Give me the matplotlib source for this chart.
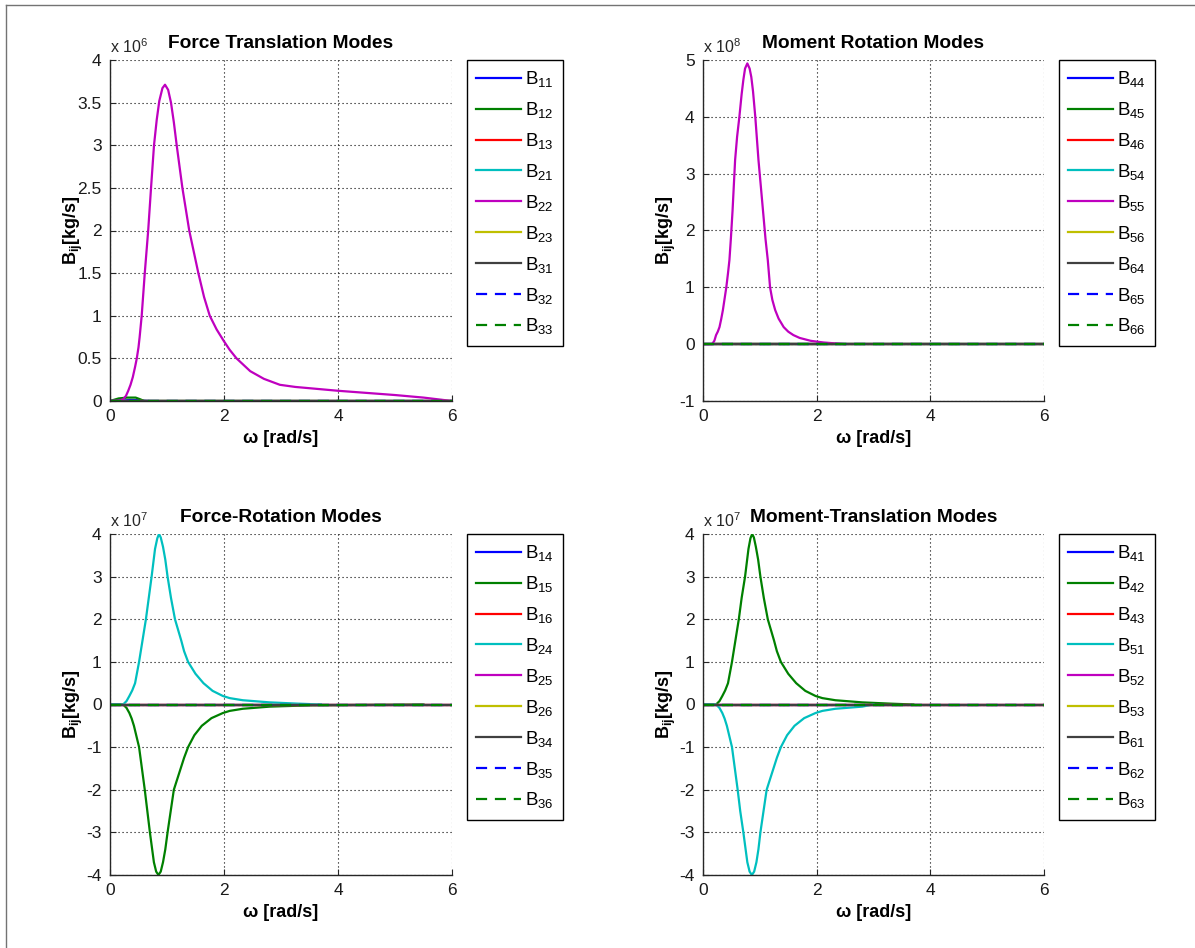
import matplotlib
matplotlib.use("Agg")
import matplotlib.pyplot as plt
from matplotlib.lines import Line2D
import numpy as np

plt.rcParams['font.family'] = ['Liberation Sans', 'DejaVu Sans']
plt.rcParams['mathtext.fontset'] = 'custom'
plt.rcParams['mathtext.rm'] = 'Liberation Sans'
plt.rcParams['mathtext.bf'] = 'Liberation Sans:bold'
plt.rcParams['mathtext.it'] = 'Liberation Sans:italic'

# ---------------- data ----------------
titles = ["Force Translation Modes", "Moment Rotation Modes",
          "Force-Rotation Modes", "Moment-Translation Modes"]
exponents = [6, 8, 7, 7]
labels_ft = ["11", "12", "13", "21", "22", "23", "31", "32", "33"]
labels_mr = ["44", "45", "46", "54", "55", "56", "64", "65", "66"]
labels_fr = ["14", "15", "16", "24", "25", "26", "34", "35", "36"]
labels_mt = ["41", "42", "43", "51", "52", "53", "61", "62", "63"]

w_zero = [0.0, 1.0, 2.0, 3.0, 4.0, 5.0, 6.0]
v_zero = [0.0, 0.0, 0.0, 0.0, 0.0, 0.0, 0.0]

# Force translation (units 1e6 kg/s)
w_b22 = [0, 0.15, 0.23, 0.28, 0.32, 0.36, 0.40, 0.44, 0.47, 0.50, 0.52, 0.556,
         0.61, 0.67, 0.72, 0.772, 0.82, 0.865, 0.92, 0.965, 1.02, 1.07, 1.12,
         1.17, 1.27, 1.39, 1.55, 1.65, 1.75, 1.87, 2.0, 2.1, 2.22, 2.46, 2.7,
         2.98, 3.25, 3.5, 4.0, 4.5, 5.0, 5.5, 6.0]
v_b22 = [0, 0.005, 0.02, 0.06, 0.12, 0.19, 0.28, 0.40, 0.5, 0.63, 0.75, 1.0,
         1.5, 2.0, 2.5, 3.0, 3.3, 3.52, 3.67, 3.71, 3.65, 3.5, 3.27,
         3.0, 2.5, 2.0, 1.5, 1.22, 1.0, 0.84, 0.70, 0.6, 0.5, 0.35, 0.26,
         0.19, 0.165, 0.15, 0.12, 0.095, 0.07, 0.04, 0.0]
w_b12 = [0, 0.05, 0.15, 0.3, 0.45, 0.53, 0.6, 1.0, 6.0]
v_b12 = [0, 0.01, 0.03, 0.04, 0.04, 0.02, 0.0, 0.0, 0.0]
w_b11 = [0, 0.2, 0.35, 0.5, 0.6, 0.7, 6.0]
v_b11 = [0, 0.005, 0.012, 0.01, 0.004, 0.0, 0.0]

# Moment rotation (units 1e8 kg m^2/s)
w_b55 = [0, 0.10, 0.16, 0.20, 0.23, 0.26, 0.29, 0.32, 0.35, 0.38, 0.41, 0.44,
         0.465, 0.49, 0.52, 0.565, 0.60, 0.64, 0.68, 0.71, 0.74, 0.78, 0.82,
         0.85, 0.88, 0.92, 0.976, 1.02, 1.06, 1.10, 1.14, 1.18, 1.22, 1.27,
         1.33, 1.42, 1.5, 1.59, 1.7, 1.89, 2.0, 2.12, 2.5]
v_b55 = [0, 0, 0.0, 0.06, 0.16, 0.22, 0.30, 0.44, 0.6, 0.8, 1.0, 1.25,
         1.48, 1.85, 2.35, 3.24, 3.65, 4.0, 4.4, 4.65, 4.85, 4.94, 4.85,
         4.7, 4.45, 4.0, 3.24, 2.75, 2.3, 1.85, 1.48, 1.0, 0.78, 0.6,
         0.45, 0.30, 0.22, 0.16, 0.11, 0.06, 0.045, 0.03, 0.0]

# Force-rotation (units 1e7)
w_b24 = [0, 0.15, 0.23, 0.29, 0.34, 0.39, 0.44, 0.51, 0.57, 0.63, 0.68, 0.73,
         0.79, 0.83, 0.86, 0.89, 0.93, 0.97, 1.01, 1.07, 1.14, 1.25, 1.30,
         1.37, 1.5, 1.64, 1.8, 1.98, 2.1, 2.33, 2.8, 3.3, 3.7]
v_b24 = [0, 0, 0, 0.08, 0.2, 0.33, 0.5, 1.0, 1.5, 2.0, 2.5, 3.0,
         3.65, 3.9, 4.0, 3.92, 3.7, 3.4, 3.0, 2.5, 2.0, 1.5, 1.25,
         1.0, 0.72, 0.5, 0.32, 0.2, 0.15, 0.1, 0.05, 0.02, 0]
w_b15 = [0, 0.15, 0.23, 0.29, 0.34, 0.38, 0.42, 0.51, 0.56, 0.61, 0.655, 0.70,
         0.77, 0.81, 0.85, 0.89, 0.93, 0.97, 1.01, 1.065, 1.12, 1.24, 1.30,
         1.37, 1.48, 1.61, 1.78, 1.98, 2.1, 2.33, 2.8, 3.5, 4.5, 5.5]
v_b15 = [0, 0, 0, -0.08, -0.2, -0.33, -0.5, -1.0, -1.5, -2.0, -2.5, -3.0,
         -3.7, -3.92, -4.0, -3.92, -3.7, -3.4, -3.0, -2.5, -2.0, -1.5, -1.25,
         -1.0, -0.72, -0.5, -0.32, -0.2, -0.15, -0.1, -0.05, -0.02, -0.01, 0]

# Moment-translation (units 1e7)
w_b42 = [0, 0.15, 0.23, 0.29, 0.34, 0.39, 0.44, 0.51, 0.57, 0.63, 0.68, 0.74,
         0.80, 0.835, 0.865, 0.895, 0.93, 0.97, 1.01, 1.07, 1.14, 1.25, 1.30,
         1.37, 1.5, 1.64, 1.8, 1.98, 2.1, 2.33, 2.8, 3.3, 3.7]
v_b42 = [0, 0, 0, 0.08, 0.2, 0.33, 0.5, 1.0, 1.5, 2.0, 2.5, 3.0,
         3.65, 3.9, 4.0, 3.92, 3.7, 3.4, 3.0, 2.5, 2.0, 1.5, 1.25,
         1.0, 0.72, 0.5, 0.32, 0.2, 0.15, 0.1, 0.05, 0.02, 0]
w_b51 = [0, 0.15, 0.23, 0.29, 0.34, 0.38, 0.42, 0.51, 0.56, 0.61, 0.655, 0.71,
         0.78, 0.82, 0.86, 0.90, 0.94, 0.975, 1.01, 1.065, 1.12, 1.24, 1.30,
         1.37, 1.48, 1.61, 1.78, 1.98, 2.1, 2.33, 2.8, 3.0]
v_b51 = [0, 0, 0, -0.08, -0.2, -0.33, -0.5, -1.0, -1.5, -2.0, -2.5, -3.0,
         -3.7, -3.92, -4.0, -3.92, -3.7, -3.4, -3.0, -2.5, -2.0, -1.5, -1.25,
         -1.0, -0.72, -0.5, -0.32, -0.2, -0.15, -0.1, -0.05, 0]

# ---------------- styles ----------------
colors = [(0, 0, 1), (0, 0.5, 0), (1, 0, 0), (0, 0.75, 0.75), (0.75, 0, 0.75),
          (0.75, 0.75, 0), (0.25, 0.25, 0.25), (0, 0, 1), (0, 0.5, 0)]
styles = ['-'] * 7 + ['--', '--']

fig = plt.figure(figsize=(11.95, 9.48), dpi=100)
W, H = 1195, 948

def axes_px(x0, x1, y0, y1):
    return fig.add_axes([x0 / W, 1 - y1 / H, (x1 - x0) / W, (y1 - y0) / H])

ax_tl = axes_px(110, 452, 60, 401)
ax_tr = axes_px(703, 1044, 60, 401)
ax_bl = axes_px(110, 452, 534, 875)
ax_br = axes_px(703, 1044, 534, 875)

panels = [
    (ax_tl, labels_ft, {1: (w_b12, v_b12), 0: (w_b11, v_b11), 4: (w_b22, v_b22)}, (0, 4), np.arange(0, 4.01, 0.5)),
    (ax_tr, labels_mr, {4: (w_b55, v_b55)}, (-1, 5), np.arange(-1, 5.01, 1)),
    (ax_bl, labels_fr, {1: (w_b15, v_b15), 3: (w_b24, v_b24)}, (-4, 4), np.arange(-4, 4.01, 1)),
    (ax_br, labels_mt, {1: (w_b42, v_b42), 3: (w_b51, v_b51)}, (-4, 4), np.arange(-4, 4.01, 1)),
]

axc = (0.15, 0.15, 0.15)
for (ax, labs, curves, ylim, yt), title, ex in zip(panels, titles, exponents):
    handles = []
    for i, lab in enumerate(labs):
        wv, vv = curves.get(i, (w_zero, v_zero))
        h, = ax.plot(wv, vv, color=colors[i], linestyle=styles[i], lw=1.6,
                     dashes=(5, 3.5) if styles[i] == '--' else (None, None),
                     solid_joinstyle='round', label=r'B$_{%s}$' % lab)
        handles.append(h)
    ax.set_xlim(0, 6)
    ax.set_ylim(*ylim)
    ax.set_xticks([0, 2, 4, 6])
    ax.set_yticks(yt)
    ax.set_yticklabels([('%g' % t) for t in yt])
    ax.grid(True, color='black', linestyle=(0, (1, 2.6)), linewidth=0.8)
    for s in ['top', 'right']:
        ax.spines[s].set_visible(False)
    for s in ['left', 'bottom']:
        ax.spines[s].set_color(axc)
        ax.spines[s].set_linewidth(1.0)
    ax.tick_params(direction='in', length=4, width=0.8, colors=axc,
                   labelsize=12.5, pad=6, labelcolor=(0.1, 0.1, 0.1))
    ax.set_title(title, fontsize=13.8, fontweight='bold', pad=9)
    ax.set_xlabel('ω [rad/s]', fontsize=13, fontweight='bold', labelpad=4)
    ax.set_ylabel(r'B$_{\mathbf{ij}}$[kg/s]', fontsize=13, fontweight='bold')
    ax.yaxis.set_label_coords(-0.074, 0.5)
    ax.text(0.0, 1.012, r'x 10$^{%d}$' % ex, transform=ax.transAxes,
            fontsize=11.5, color=(0.15, 0.15, 0.15), ha='left', va='bottom')
    leg = ax.legend(handles=handles, loc='upper left', bbox_to_anchor=(1.044, 1.0),
                    borderaxespad=0, fontsize=13.5, handlelength=2.4,
                    labelspacing=0.58, fancybox=False, framealpha=1,
                    edgecolor='black', borderpad=0.5, handletextpad=0.2)
    leg.get_frame().set_linewidth(1.0)

# figure border lines (left and top)
fig.add_artist(Line2D([5.5 / W, 5.5 / W], [0, 1 - 4.5 / H], color=(0.45, 0.45, 0.45), lw=1))
fig.add_artist(Line2D([5.5 / W, 1.0], [1 - 4.5 / H, 1 - 4.5 / H], color=(0.45, 0.45, 0.45), lw=1))

fig.savefig('out.png', dpi=100)
